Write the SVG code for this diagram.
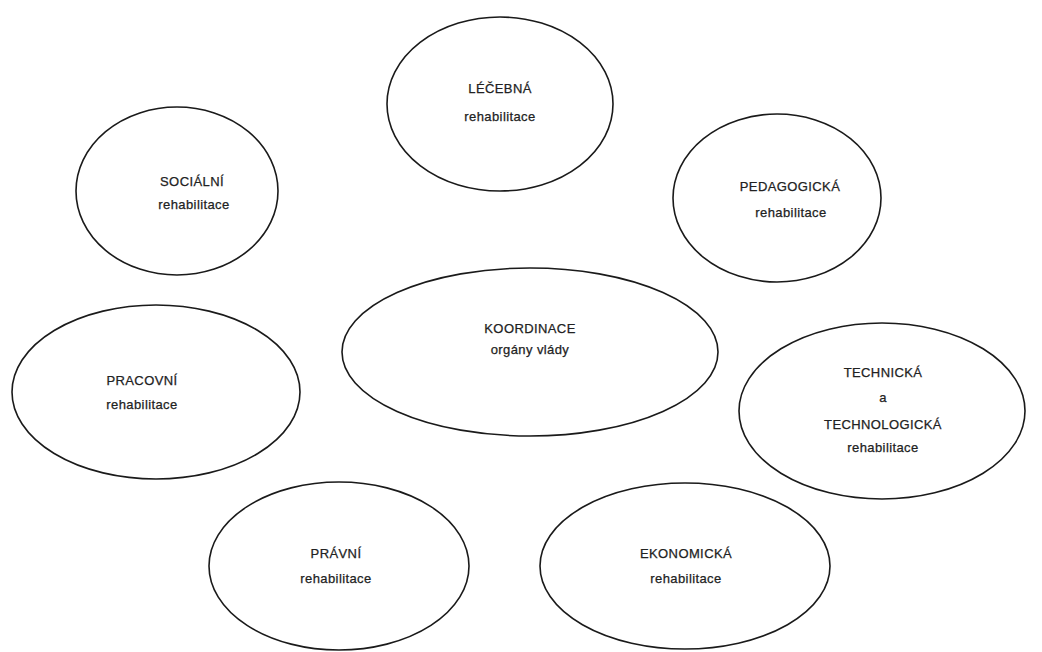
<svg xmlns="http://www.w3.org/2000/svg" width="1042" height="652" viewBox="0 0 1042 652">
<style>
.n ellipse{fill:none;stroke:#1a1a1a;stroke-width:1.6}
.n text{font-family:"Liberation Sans",Arial,sans-serif;font-size:13px;fill:#222;stroke:#222;stroke-width:0.25;text-anchor:middle;letter-spacing:0.4px}
</style>
<rect width="1042" height="652" fill="#ffffff"/>
<g id="connectors"></g>
<g id="lecebna" class="n"><ellipse cx="500" cy="104" rx="113" ry="87"/><text x="500" y="93">LÉČEBNÁ</text><text x="500" y="121">rehabilitace</text></g>
<g id="socialni" class="n"><ellipse cx="177" cy="191" rx="101" ry="84"/><text x="192" y="186">SOCIÁLNÍ</text><text x="194" y="209">rehabilitace</text></g>
<g id="pedagogicka" class="n"><ellipse cx="777" cy="198" rx="104" ry="84"/><text x="790" y="191">PEDAGOGICKÁ</text><text x="791" y="217">rehabilitace</text></g>
<g id="koordinace" class="n"><ellipse cx="530" cy="352" rx="188" ry="84"/><text x="530" y="333">KOORDINACE</text><text x="530" y="354">orgány vlády</text></g>
<g id="pracovni" class="n"><ellipse cx="156" cy="392" rx="144" ry="87"/><text x="142" y="385">PRACOVNÍ</text><text x="142" y="409">rehabilitace</text></g>
<g id="technicka" class="n"><ellipse cx="882" cy="411" rx="143" ry="88"/><text x="883" y="377">TECHNICKÁ</text><text x="883" y="402">a</text><text x="883" y="429">TECHNOLOGICKÁ</text><text x="883" y="452">rehabilitace</text></g>
<g id="pravni" class="n"><ellipse cx="339" cy="566" rx="130" ry="84"/><text x="336" y="558">PRÁVNÍ</text><text x="336" y="583">rehabilitace</text></g>
<g id="ekonomicka" class="n"><ellipse cx="685" cy="566" rx="145" ry="83"/><text x="686" y="558">EKONOMICKÁ</text><text x="686" y="583">rehabilitace</text></g>
</svg>
